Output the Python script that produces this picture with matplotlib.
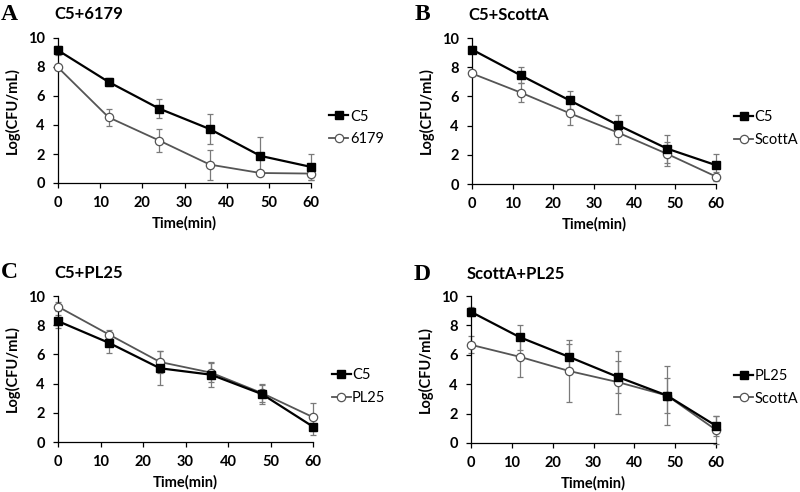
import matplotlib
matplotlib.use("Agg")
import matplotlib.pyplot as plt

plt.rcParams['font.family'] = ['Lato', 'DejaVu Sans']

time = [0, 12, 24, 36, 48, 60]

# panel A: C5 + 6179
a_c5 = [9.15, 6.97, 5.13, 3.72, 1.87, 1.11]
a_c5_err = [0.3, 0.25, 0.65, 1.06, 1.32, 0.92]
a_6179 = [7.97, 4.53, 2.93, 1.27, 0.69, 0.65]
a_6179_err = [0.2, 0.6, 0.79, 1.04, 0.1, 0.47]

# panel B: C5 + ScottA
b_c5 = [9.21, 7.44, 5.73, 4.02, 2.42, 1.29]
b_c5_err = [0.25, 0.55, 0.62, 0.69, 0.97, 0.74]
b_scotta = [7.57, 6.26, 4.85, 3.51, 2.06, 0.51]
b_scotta_err = [0.2, 0.67, 0.79, 0.76, 0.85, 0.3]

# panel C: C5 + PL25
c_c5 = [8.28, 6.79, 5.05, 4.61, 3.28, 1.05]
c_c5_err = [0.45, 0.69, 1.15, 0.85, 0.65, 0.6]
c_pl25 = [9.27, 7.36, 5.48, 4.75, 3.35, 1.70]
c_pl25_err = [0.3, 0.28, 0.73, 0.66, 0.6, 0.96]

# panel D: ScottA + PL25
d_pl25 = [8.92, 7.19, 5.86, 4.49, 3.23, 1.17]
d_pl25_err = [0.3, 0.86, 0.89, 1.07, 1.16, 0.66]
d_scotta = [6.68, 5.86, 4.90, 4.14, 3.23, 0.89]
d_scotta_err = [0.57, 1.4, 2.1, 2.15, 2.03, 0.94]

panels = [
    ('A', 'C5+6179', [58, 183, 253, 145], ('C5', a_c5, a_c5_err), ('6179', a_6179, a_6179_err)),
    ('B', 'C5+ScottA', [472, 184, 244, 146], ('C5', b_c5, b_c5_err), ('ScottA', b_scotta, b_scotta_err)),
    ('C', 'C5+PL25', [58, 442, 255, 146], ('C5', c_c5, c_c5_err), ('PL25', c_pl25, c_pl25_err)),
    ('D', 'ScottA+PL25', [471, 443, 245, 147], ('PL25', d_pl25, d_pl25_err), ('ScottA', d_scotta, d_scotta_err)),
]

W, H = 800, 492
fig = plt.figure(figsize=(8, 4.92), dpi=100)

for letter, title, (x0, y0, w, h), s1, s2 in panels:
    ax = fig.add_axes([x0 / W, 1 - y0 / H, w / W, h / H])
    ebkw = dict(ecolor='#7a7a7a', elinewidth=0.9, capsize=2, capthick=0.9)
    ax.errorbar(time, s1[1], yerr=s1[2], fmt='none', zorder=2, clip_on=False, **ebkw)
    ax.errorbar(time, s2[1], yerr=s2[2], fmt='none', zorder=2, clip_on=False, **ebkw)
    ax.plot(time, s1[1], color='black', lw=1.6, marker='s', ms=5.6,
            mfc='black', mec='black', label=s1[0], zorder=4, clip_on=False)
    ax.plot(time, s2[1], color='#555555', lw=1.3, marker='o', ms=6,
            mfc='white', mec='#555555', mew=0.9, label=s2[0], zorder=3, clip_on=False)
    ax.set_xlim(0, 60)
    ax.set_ylim(0, 10)
    ax.set_xticks(range(0, 61, 10))
    ax.set_yticks(range(0, 11, 2))
    for sp in ['top', 'right']:
        ax.spines[sp].set_visible(False)
    for sp in ['left', 'bottom']:
        ax.spines[sp].set_linewidth(0.9)
    ax.tick_params(direction='out', length=3.5, width=0.9, labelsize=10.5)
    ax.tick_params(axis='x', pad=6)
    ax.tick_params(axis='y', pad=6)
    for lab in ax.get_xticklabels() + ax.get_yticklabels():
        lab.set_fontweight('bold')
    ax.set_xlabel('Time(min)', fontsize=10.5, fontweight='bold', labelpad=4)
    ax.set_ylabel('Log(CFU/mL)', fontsize=10.5, fontweight='bold', labelpad=6)
    ax.legend(loc='center left', bbox_to_anchor=(1.05, 0.38), frameon=False,
              fontsize=10.5, handlelength=1.3, handletextpad=0.1, labelspacing=0.6,
              borderaxespad=0)
    fig.text((x0 - 57) / W, 1 - (y0 - 169) / H, letter, family='Liberation Serif',
             fontweight='bold', fontsize=17, va='center', ha='left')
    fig.text((x0 - 4) / W, 1 - (y0 - 169) / H, title, fontweight='bold',
             fontsize=12, va='center', ha='left')

fig.savefig('out.png', dpi=100)
